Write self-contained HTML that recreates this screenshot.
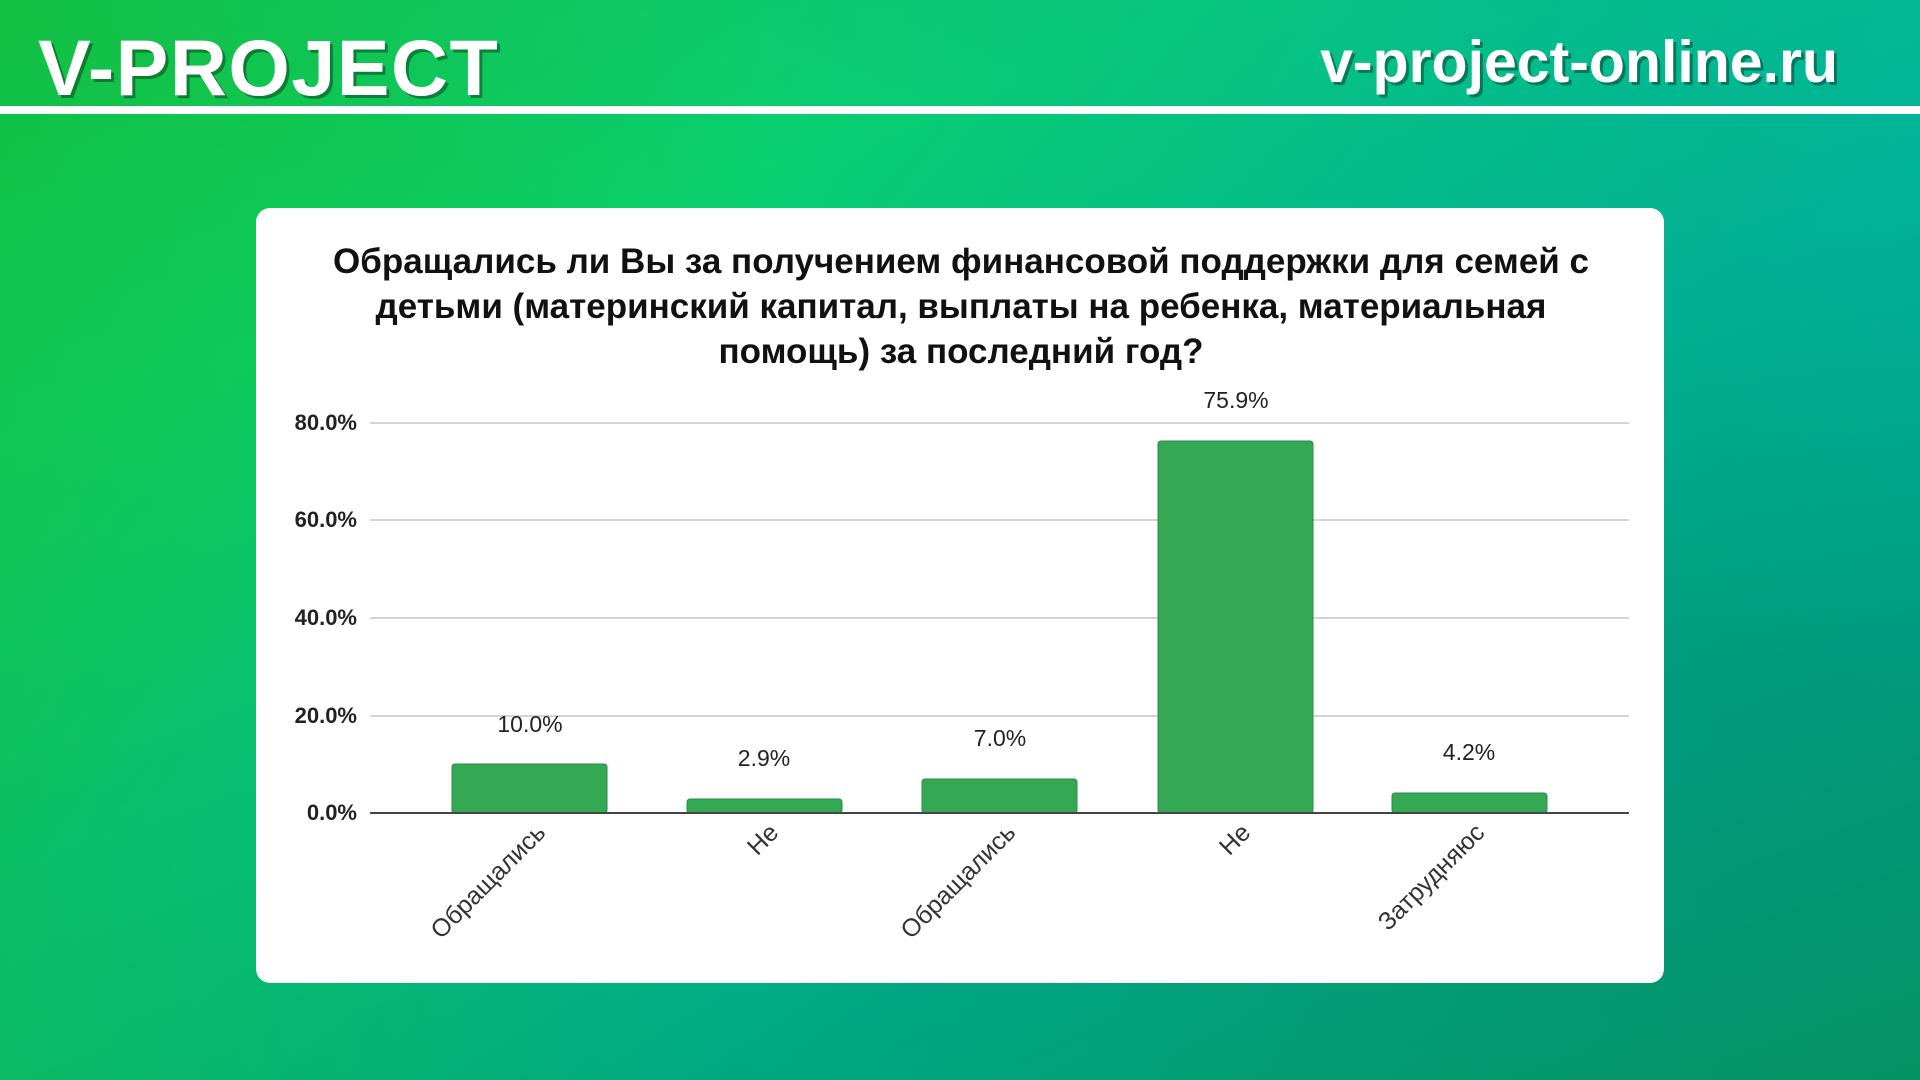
<!DOCTYPE html>
<html><head><meta charset="utf-8"><style>
html,body{margin:0;padding:0;width:1920px;height:1080px;overflow:hidden}
body{position:relative;font-family:"Liberation Sans","DejaVu Sans",sans-serif;
background:linear-gradient(160deg,#12c24a 0%,#0ad06a 25%,#00c090 50%,#00a884 75%,#06a060 100%);}
.ov{position:absolute;inset:0;background:linear-gradient(90deg,rgba(20,190,60,0.5) 0%,rgba(0,0,0,0) 40%,rgba(0,110,110,0.25) 90%);}
.ov2{position:absolute;inset:0;background:linear-gradient(20deg,rgba(0,0,0,0) 60%,rgba(0,200,200,0.35) 100%);}
.hdr{position:absolute;left:0;top:106px;width:1920px;height:8px;background:#fff}
.logo{position:absolute;left:38px;top:22px;font-size:79px;font-weight:bold;color:#fff;letter-spacing:1.5px;text-shadow:3px 3px 0 rgba(0,0,0,0.35)}
.url{position:absolute;right:82px;top:28px;font-size:59px;font-weight:bold;color:#fff;text-shadow:3px 3px 0 rgba(0,0,0,0.35)}
.card{position:absolute;left:256px;top:208px;width:1408px;height:775px;background:#fff;border-radius:14px}
</style></head><body>
<div class="ov"></div><div class="ov2"></div>
<div class="logo">V-PROJECT</div>
<div class="url">v-project-online.ru</div>
<div class="hdr"></div>
<div class="card"></div>
<svg style="position:absolute;left:0;top:0" width="1920" height="1080" font-family="Liberation Sans, DejaVu Sans, sans-serif">
<g font-size="35" font-weight="bold" fill="#111" text-anchor="middle">
<text x="961" y="273">Обращались ли Вы за получением финансовой поддержки для семей с</text>
<text x="961" y="318">детьми (материнский капитал, выплаты на ребенка, материальная</text>
<text x="961" y="363">помощь) за последний год?</text>
</g>
<g stroke="#d4d4d4" stroke-width="2">
<line x1="370" x2="1629" y1="423" y2="423"/>
<line x1="370" x2="1629" y1="520" y2="520"/>
<line x1="370" x2="1629" y1="618" y2="618"/>
<line x1="370" x2="1629" y1="716" y2="716"/>
</g>
<g font-size="22" fill="#222" text-anchor="end" font-weight="bold">
<text x="357" y="430">80.0%</text>
<text x="357" y="527">60.0%</text>
<text x="357" y="625">40.0%</text>
<text x="357" y="723">20.0%</text>
<text x="357" y="820">0.0%</text>
</g>
<g fill="#34a853" stroke="#2a8a44" stroke-width="1">
<rect x="452" y="764" width="155" height="49" rx="3"/>
<rect x="687" y="799" width="155" height="14" rx="3"/>
<rect x="922" y="779" width="155" height="34" rx="3"/>
<rect x="1158" y="441" width="155" height="372" rx="3"/>
<rect x="1392" y="793" width="155" height="20" rx="3"/>
</g>
<line x1="370" x2="1629" y1="813" y2="813" stroke="#444" stroke-width="2"/>
<g font-size="23" fill="#222" text-anchor="middle">
<text x="530" y="732">10.0%</text>
<text x="764" y="766">2.9%</text>
<text x="1000" y="746">7.0%</text>
<text x="1236" y="408">75.9%</text>
<text x="1469" y="760">4.2%</text>
</g>
<g font-size="25" fill="#333" text-anchor="end">
<text transform="translate(547,834) rotate(-45)">Обращались</text>
<text transform="translate(780,834) rotate(-45)">Не</text>
<text transform="translate(1017,834) rotate(-45)">Обращались</text>
<text transform="translate(1252,834) rotate(-45)">Не</text>
<text transform="translate(1486,834) rotate(-45)">Затрудняюс</text>
</g>
</svg>
</body></html>
